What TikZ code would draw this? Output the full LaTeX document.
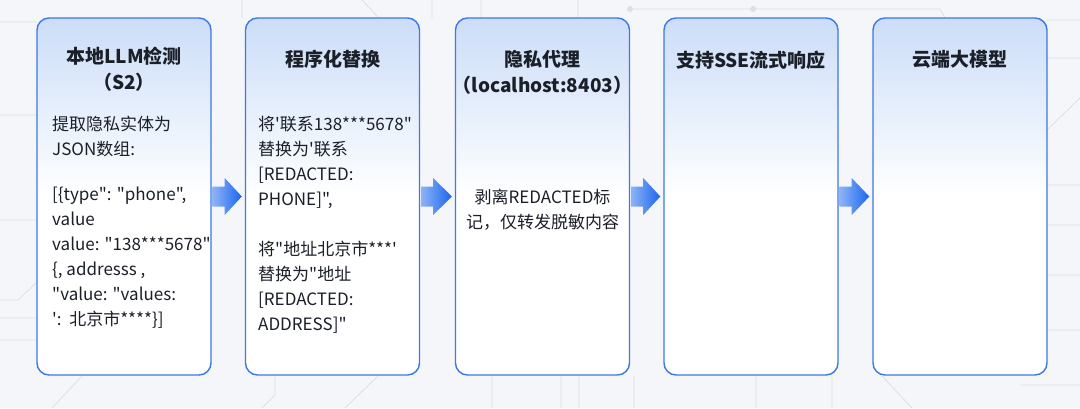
\documentclass[tikz,border=0pt]{standalone}
\usepackage{fontspec}
\setmainfont{Noto Sans CJK SC}[Ligatures=TeXOff]
\usepackage{xcolor}
\usepackage{tikz}
\usetikzlibrary{arrows.meta,calc,positioning}
\definecolor{bgpaper}{HTML}{F4F6F9}
\definecolor{bgline}{HTML}{DCE0E5}
\definecolor{cardline}{HTML}{3A79E6}
\definecolor{cardtop}{HTML}{CBDDF8}
\definecolor{arrowlight}{HTML}{8DB3F6}
\definecolor{arrowdark}{HTML}{1A66EF}
\definecolor{inkdark}{HTML}{1B1F28}
\newcommand{\flowarrow}[2]{%
  \shade[left color=arrowlight, right color=arrowdark]
    ($(#1.east)+(1,-10)$) -- ($(#1.east)+(13,-10)$) -- ($(#1.east)+(13,-18.5)$)
    -- ($(#2.west)+(-3,0)$) -- ($(#1.east)+(13,18.5)$) -- ($(#1.east)+(13,10)$)
    -- ($(#1.east)+(1,10)$) -- cycle;}

\begin{document}
\begin{tikzpicture}[x=1pt, y=-1pt,
  card/.style={draw=cardline, line width=1.4pt, rounded corners=12pt, top color=cardtop, bottom color=white, middle color=white, minimum width=174pt, minimum height=357pt, inner sep=0pt},
  cardtitle/.style={anchor=north, align=center, text=inkdark, font=\fontsize{19}{26}\selectfont\bfseries},
  cardbody/.style={align=left, text=inkdark, font=\fontsize{17}{25}\selectfont, inner sep=0pt}]
\useasboundingbox (0,0) rectangle (1080,408);
\fill[bgpaper] (0,0) rectangle (1080,408);
\draw[bgline, line width=0.8pt] (0,22) -- (37,22) (0,115) -- (37,115) (0,220) -- (37,220)
  (0,300) -- (18,300) -- (37,282) (0,318) -- (37,318) (0,340) -- (37,340);
\draw[bgline, line width=0.8pt] (1047,20) -- (1080,20) (1047,58) -- (1080,58) (1047,130) -- (1080,98)
  (1047,185) -- (1080,185) (1047,225) -- (1080,225) (1047,275) -- (1080,275) (1047,330) -- (1080,330)
  (1020,385) -- (1080,385);
\draw[bgline, line width=0.8pt] (630,9) -- (940,9) -- (945,18) (242,0) -- (242,18) (432,0) -- (432,18)
  (481,0) -- (481,18) (578,0) -- (578,18) (362,0) -- (379,18);
\fill[bgline] (630,9) circle (3pt) (753,9) circle (3pt);
\draw[bgline, line width=0.8pt] (82,376) -- (52,408) (275,376) -- (275,395) -- (262,408) (378,376) -- (345,408)
  (492,376) -- (492,408) (561,376) -- (561,408) (579,376) -- (579,408) (634,376) -- (634,408)
  (756,376) -- (756,408) (832,376) -- (832,408) (882,376) -- (912,408);
\node[card] (detect) at (124,196.5) {};
\node[card] (replace) at (332.5,196.5) {};
\node[card] (proxy) at (542.5,196.5) {};
\node[card] (stream) at (751,196.5) {};
\node[card] (cloud) at (960,196.5) {};
\node[cardtitle] (detecthead) at (124,43) {本地LLM检测\\（S2）};
\node[cardtitle] (replacehead) at (332.5,47) {程序化替换};
\node[cardtitle] (proxyhead) at (542.5,47) {隐私代理\\（localhost:8403）};
\node[cardtitle] (streamhead) at (751,47) {支持SSE流式响应};
\node[cardtitle] (cloudhead) at (960,47) {云端大模型};
\node[cardbody, anchor=north west] (detecttext) at (52,116)
  {提取隐私实体为\\JSON数组:\\[20pt]{[}\{type": "phone",\\value\\value: "138***5678"\\\{, addresss ,\\"value: "values:\\':\ \ 北京市****\}{]}};
\node[cardbody, anchor=north west] (replacetext) at (258,116)
  {将'联系138***5678"\\替换为'联系\\{[}REDACTED:\\PHONE{]}",\\[25pt]将"地址北京市***'\\替换为"地址\\{[}REDACTED:\\ADDRESS{]}"};
\node[cardbody, align=center] (proxytext) at (542.5,210) {剥离REDACTED标\\记，仅转发脱敏内容};
\flowarrow{detect}{replace}
\flowarrow{replace}{proxy}
\flowarrow{proxy}{stream}
\flowarrow{stream}{cloud}
\end{tikzpicture}
\end{document}
